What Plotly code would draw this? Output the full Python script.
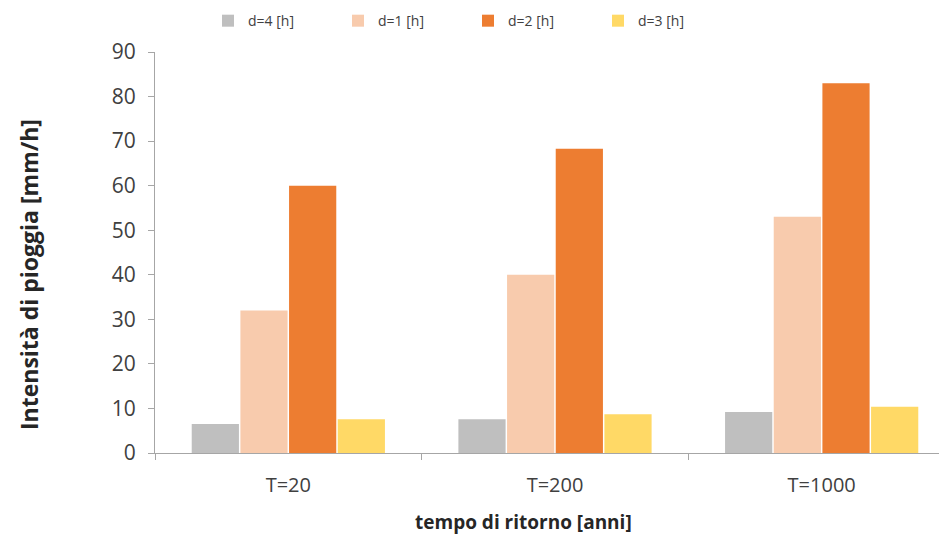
import plotly.graph_objects as go

categories = ["T=20", "T=200", "T=1000"]
series_names = ["d=4 [h]", "d=1 [h]", "d=2 [h]", "d=3 [h]"]
d4 = [6.5, 7.6, 9.2]
d1 = [32, 40, 53]
d2 = [60, 68.3, 83]
d3 = [7.6, 8.7, 10.4]
colors = ["#BFBFBF", "#F8CBAD", "#ED7D31", "#FFD966"]
y_ticks = [0, 10, 20, 30, 40, 50, 60, 70, 80, 90]

fig = go.Figure()
for name, vals, c in zip(series_names, [d4, d1, d2, d3], colors):
    fig.add_trace(go.Bar(x=categories, y=vals, name=name, marker=dict(color=c, line=dict(width=0))))

font_family = "Open Sans, Liberation Sans, sans-serif"
fig.update_layout(
    width=939, height=535,
    margin=dict(l=147, r=0, t=44, b=90, autoexpand=False),
    paper_bgcolor="white", plot_bgcolor="white",
    barmode="group", bargap=0.27, bargroupgap=0.03,
    font=dict(family=font_family, color="#404040"),
    legend=dict(orientation="h", x=(200 - 147) / 792, xref="paper", y=1.117, yref="paper",
                yanchor="top", xanchor="left",
                entrywidth=85, entrywidthmode="pixels",
                font=dict(size=14, color="#404040"), traceorder="normal"),
    showlegend=True,
    xaxis=dict(range=[-0.5, 2.47], showline=True, linecolor="#A6A6A6", linewidth=1, ticks="outside",
               tickson="boundaries", ticklen=6, tickcolor="#A6A6A6", tickfont=dict(size=20, color="#404040"),
               ticklabelstandoff=14, showgrid=False, automargin=False),
    yaxis=dict(range=[0, 90], tickvals=y_ticks, showline=True, linecolor="#A6A6A6", linewidth=1,
               ticks="outside", ticklen=6, tickcolor="#A6A6A6", tickfont=dict(size=21, color="#404040"),
               ticklabelstandoff=8, showgrid=False, zeroline=False, automargin=False),
    annotations=[
        dict(text="<b>Intensità di pioggia [mm/h]</b>", textangle=-90, xref="paper", yref="paper",
             x=(29 - 155) / 792, y=(453 - 275) / 401, xanchor="center", yanchor="middle", showarrow=False,
             font=dict(size=23, color="#262626")),
        dict(text="<b>tempo di ritorno [anni]</b>", xref="paper", yref="paper",
             x=(523 - 155) / 792, y=(453 - 522) / 401, xanchor="center", yanchor="middle", showarrow=False,
             font=dict(size=19, color="#262626")),
    ],
)
fig.write_html("out.html")
